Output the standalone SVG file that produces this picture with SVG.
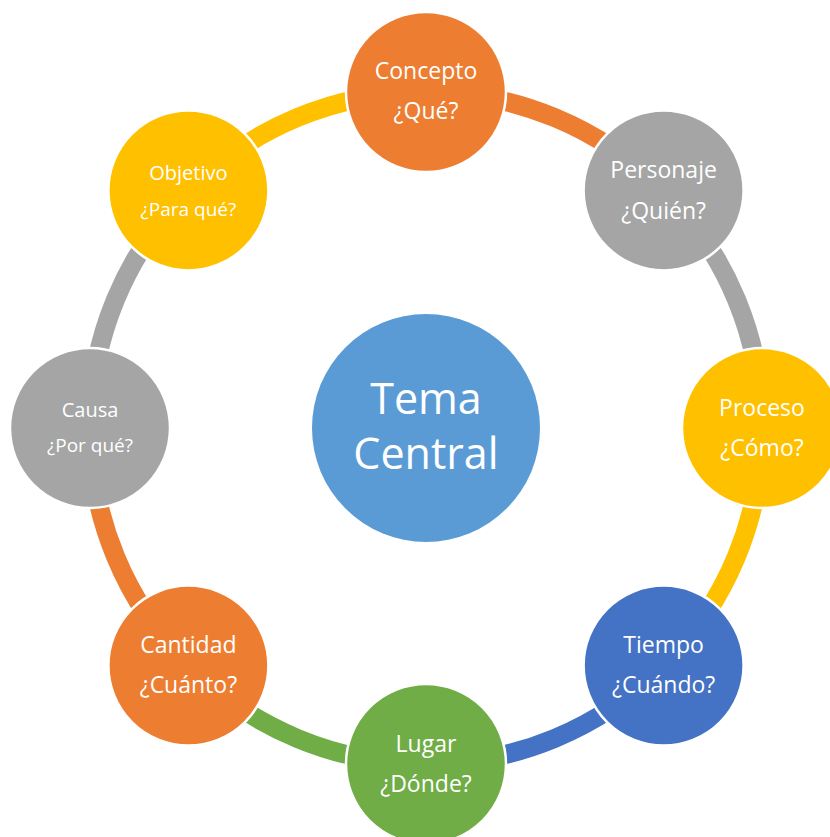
<svg xmlns="http://www.w3.org/2000/svg" width="830" height="837" viewBox="0 0 830 837">
<style>
.arc{fill:none;stroke-width:19}
.node{stroke:#fff;stroke-width:2.5}
text{font-family:"Open Sans","Liberation Sans",sans-serif;fill:#fff;text-anchor:middle}
.t{font-size:23px}
.s1{font-size:20px}
.s2{font-size:19px}
.c{font-size:43px}
</style>
<rect width="830" height="837" fill="#fff"/>
<g id="connectors">
<path class="arc" stroke="#ED7D31" d="M426 92 A336 336 0 0 1 663.6 190.4"/>
<path class="arc" stroke="#A5A5A5" d="M663.6 190.4 A336 336 0 0 1 762 428"/>
<path class="arc" stroke="#FFC000" d="M762 428 A336 336 0 0 1 663.6 665.6"/>
<path class="arc" stroke="#4472C4" d="M663.6 665.6 A336 336 0 0 1 426 764"/>
<path class="arc" stroke="#70AD47" d="M426 764 A336 336 0 0 1 188.4 665.6"/>
<path class="arc" stroke="#ED7D31" d="M188.4 665.6 A336 336 0 0 1 90 428"/>
<path class="arc" stroke="#A5A5A5" d="M90 428 A336 336 0 0 1 188.4 190.4"/>
<path class="arc" stroke="#FFC000" d="M188.4 190.4 A336 336 0 0 1 426 92"/>
</g>
<g id="center">
<circle cx="426" cy="428" r="114" fill="#5B9BD5"/>
<text class="c" x="426" y="414">Tema</text>
<text class="c" x="426" y="469">Central</text>
</g>
<g id="concepto">
<circle class="node" cx="426" cy="92" r="80" fill="#ED7D31"/>
<text class="t" x="426" y="79">Concepto</text>
<text class="t" x="426" y="119">¿Qué?</text>
</g>
<g id="personaje">
<circle class="node" cx="663.6" cy="190.4" r="80" fill="#A5A5A5"/>
<text class="t" x="663.6" y="178">Personaje</text>
<text class="t" x="663.6" y="219">¿Quién?</text>
</g>
<g id="proceso">
<circle class="node" cx="762" cy="428" r="80" fill="#FFC000"/>
<text class="t" x="762" y="416">Proceso</text>
<text class="t" x="762" y="456">¿Cómo?</text>
</g>
<g id="tiempo">
<circle class="node" cx="663.6" cy="665.6" r="80" fill="#4472C4"/>
<text class="t" x="663.6" y="653">Tiempo</text>
<text class="t" x="663.6" y="693">¿Cuándo?</text>
</g>
<g id="lugar">
<circle class="node" cx="426" cy="764" r="80" fill="#70AD47"/>
<text class="t" x="426" y="752">Lugar</text>
<text class="t" x="426" y="792">¿Dónde?</text>
</g>
<g id="cantidad">
<circle class="node" cx="188.4" cy="665.6" r="80" fill="#ED7D31"/>
<text class="t" x="188.4" y="653">Cantidad</text>
<text class="t" x="188.4" y="693">¿Cuánto?</text>
</g>
<g id="causa">
<circle class="node" cx="90" cy="428" r="80" fill="#A5A5A5"/>
<text class="s1" x="90" y="417">Causa</text>
<text class="s2" x="90" y="452">¿Por qué?</text>
</g>
<g id="objetivo">
<circle class="node" cx="188.4" cy="190.4" r="80" fill="#FFC000"/>
<text class="s1" x="188.4" y="180">Objetivo</text>
<text class="s2" x="188.4" y="216">¿Para qué?</text>
</g>
</svg>
